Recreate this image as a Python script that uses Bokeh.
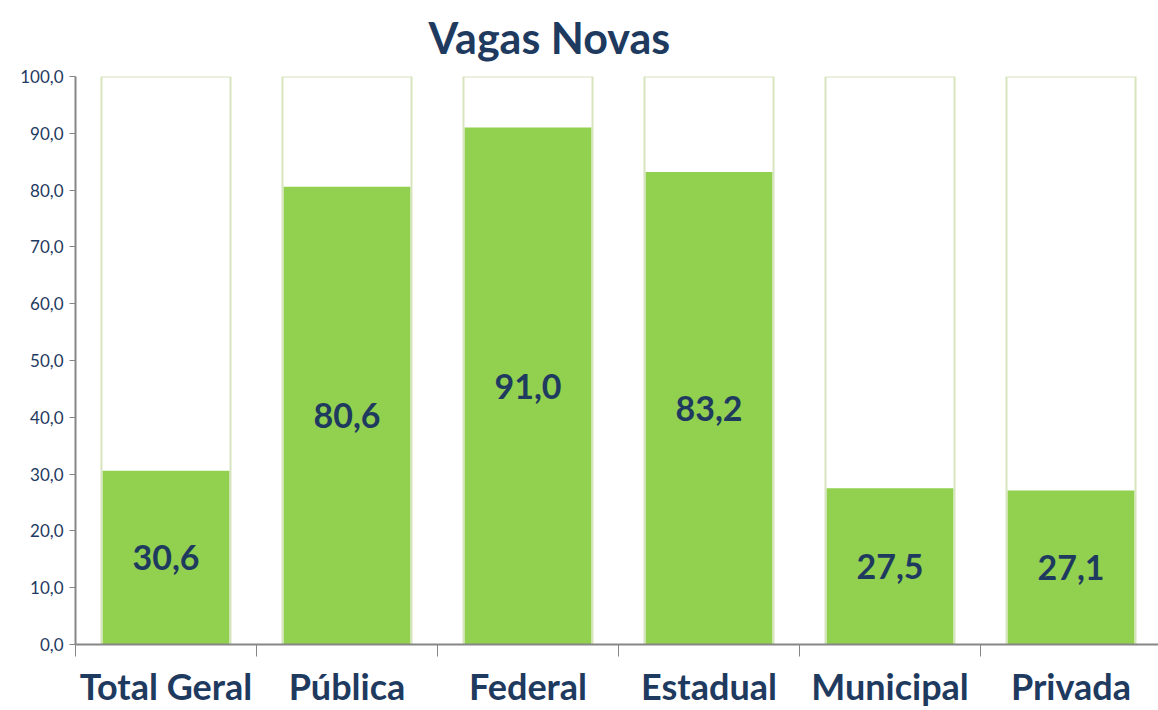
from bokeh.plotting import figure
from bokeh.models import ColumnDataSource, FixedTicker, Title
from bokeh.core.properties import value
from bokeh.embed import file_html
from bokeh.resources import INLINE

categories = ["Total Geral", "Pública", "Federal", "Estadual", "Municipal", "Privada"]
values = [30.6, 80.6, 91.0, 83.2, 27.5, 27.1]
value_labels = ["30,6", "80,6", "91,0", "83,2", "27,5", "27,1"]
y_ticks = [0, 10, 20, 30, 40, 50, 60, 70, 80, 90, 100]
y_tick_labels = ["0,0", "10,0", "20,0", "30,0", "40,0", "50,0", "60,0", "70,0", "80,0", "90,0", "100,0"]

NAVY = "#1F3A5F"
FONT = "Lato"

xs = [i + 0.5 for i in range(len(categories))]
src = ColumnDataSource(dict(x=xs, v=values, half=[v / 2 for v in values],
                            lab=value_labels, full=[100] * len(values)))

W, H = 1158, 710
left, right, top, bottom = 75, 0, 75, 66
frame_w = W - left - right
x_end = frame_w / 181.0

p = figure(width=W, height=H, x_range=(0, x_end), y_range=(0, 100),
           output_backend="svg", toolbar_location=None,
           min_border_left=left, min_border_right=right,
           min_border_top=top, min_border_bottom=bottom)
p.title = Title(text="Vagas Novas", text_font=FONT, text_font_size="43px",
                text_font_style="bold", text_color=NAVY, align="left",
                offset=353, standoff=23, vertical_align="top")
p.outline_line_color = None
p.grid.visible = False

p.vbar(x="x", top="full", bottom=0, width=0.713, source=src,
       fill_color="white", line_color="#D7E4BD", line_width=2)
p.vbar(x="x", top="v", bottom=0, width=0.70, source=src,
       fill_color="#92D050", line_color=None)
p.text(x="x", y="half", text="lab", source=src, text_align="center",
       text_baseline="middle", text_font=value(FONT), text_font_size="34px",
       text_font_style="bold", text_color=NAVY)

ya = p.yaxis[0]
ya.ticker = FixedTicker(ticks=y_ticks)
ya.major_label_overrides = {t: l for t, l in zip(y_ticks, y_tick_labels)}
ya.minor_tick_line_color = None
ya.major_tick_in = 0
ya.major_tick_out = 6
ya.axis_line_color = "#868686"
ya.major_tick_line_color = "#868686"
ya.axis_line_width = 2
ya.major_label_text_font = FONT
ya.major_label_text_font_size = "17px"
ya.major_label_text_color = NAVY
ya.major_label_standoff = 6

xa = p.xaxis[0]
xa.ticker = FixedTicker(ticks=xs, minor_ticks=list(range(len(categories) + 1)))
xa.major_label_overrides = {x: c for x, c in zip(xs, categories)}
xa.major_tick_line_color = None
xa.minor_tick_in = 0
xa.minor_tick_out = 12
xa.minor_tick_line_color = "#868686"
xa.axis_line_color = "#868686"
xa.axis_line_width = 2
xa.major_label_text_font = FONT
xa.major_label_text_font_size = "36px"
xa.major_label_text_font_style = "bold"
xa.major_label_text_color = NAVY
xa.major_label_standoff = 7

open("out.html", "w").write(file_html(p, INLINE))
